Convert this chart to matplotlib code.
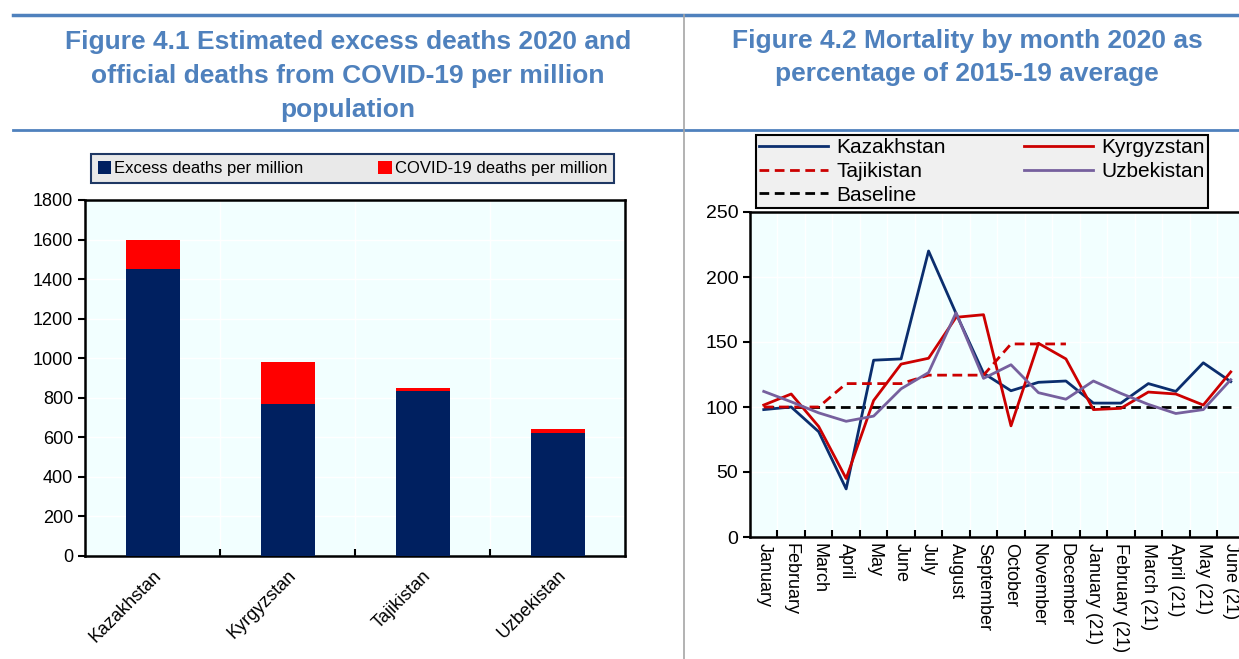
import matplotlib
matplotlib.use("Agg")
import matplotlib.pyplot as plt
import numpy as np

plt.rcParams['font.family'] = ['Liberation Sans Narrow', 'Liberation Sans', 'DejaVu Sans']

# Figure 4.1 data
countries = ["Kazakhstan", "Kyrgyzstan", "Tajikistan", "Uzbekistan"]
excess = [1450, 770, 835, 622]
covid = [150, 210, 12, 20]

# Figure 4.2 data
months = ["January", "February", "March", "April", "May", "June", "July",
          "August", "September", "October", "November", "December",
          "January (21)", "February (21)", "March (21)", "April (21)",
          "May (21)", "June (21)"]
kaz = [98, 100, 81, 37, 136, 137, 220, 172, 126, 112.5, 119, 120,
       103, 103, 118, 112, 134, 119.5]
kgz = [101.5, 110, 85, 45, 105, 133, 137.5, 169, 171, 85.5, 149, 137,
       98, 99, 111.5, 110, 101.5, 127]
tjk = [100, 100, 100, 118, 118, 118, 124.5, 124.5, 124.5, 148.5, 148.5, 148.5,
       np.nan, np.nan, np.nan, np.nan, np.nan, np.nan]
uzb = [112, 104, 95.5, 89, 93, 114, 126.5, 172.5, 122, 132.5, 111, 106,
       120, 110.5, 102, 95, 98, 121]
baseline = [100] * len(months)

W, H = 1239, 659
fig = plt.figure(figsize=(12.39, 6.59), dpi=100)

def fx(px):
    return px / W

def fy(py):
    return 1 - py / H

title_col = "#4F81BD"
bg = "#F2FFFF"

# header lines
fig.add_artist(plt.Line2D([fx(13), 1], [fy(15), fy(15)], color=title_col, lw=2.5))
fig.add_artist(plt.Line2D([fx(13), 1], [fy(130), fy(130)], color=title_col, lw=2.0))
fig.add_artist(plt.Line2D([fx(684), fx(684)], [fy(15), 0], color="#A6A6A6", lw=1.2))

fig.text(fx(348), fy(76), "Figure 4.1 Estimated excess deaths 2020 and\nofficial deaths from COVID-19 per million\npopulation",
         ha="center", va="center", fontsize=19, fontweight="bold", color=title_col, linespacing=1.52)
fig.text(fx(967), fy(57.5), "Figure 4.2 Mortality by month 2020 as\npercentage of 2015-19 average",
         ha="center", va="center", fontsize=19, fontweight="bold", color=title_col, linespacing=1.5)

# ---- left chart: stacked bars
ax1 = fig.add_axes([fx(85), fy(556), fx(625) - fx(85), fy(200) - fy(556)])
ax1.set_facecolor(bg)
x = np.arange(len(countries))
b1 = ax1.bar(x, excess, width=0.4, color="#002060", label="Excess deaths per million", zorder=3)
b2 = ax1.bar(x, covid, width=0.4, bottom=excess, color="#FF0000", label="COVID-19 deaths per million", zorder=3)
ax1.set_xlim(-0.5, len(countries) - 0.5)
ax1.set_ylim(0, 1800)
ax1.set_yticks(range(0, 1801, 200))
ax1.set_xticks(x)
ax1.set_xticklabels(countries, rotation=45, ha="right", rotation_mode="anchor", fontsize=13)
ax1.set_xticks(np.arange(0.5, len(countries) - 0.5, 1), minor=True)
ax1.tick_params(axis="x", which="major", length=0, pad=8)
ax1.tick_params(axis="x", which="minor", direction="in", length=5, width=1.5)
ax1.tick_params(axis="y", direction="out", length=5, width=1.5, labelsize=13)
ax1.grid(axis="y", color="white", lw=1, zorder=1)
ax1.grid(axis="x", which="minor", color="white", lw=1, zorder=1)
for s in ax1.spines.values():
    s.set_linewidth(1.8)
leg1 = ax1.legend(handles=[b1, b2], loc="center", ncol=2, mode="expand",
                  bbox_to_anchor=(fx(91), fy(188), fx(614) - fx(91), fy(149) - fy(188)),
                  bbox_transform=fig.transFigure, fontsize=12, handlelength=0.8, handleheight=0.8,
                  handletextpad=0.2, borderaxespad=0, fancybox=False, framealpha=1)
leg1.get_frame().set_facecolor("#E9E9E9")
leg1.get_frame().set_edgecolor("#1F3864")
leg1.get_frame().set_linewidth(1.5)

# ---- right chart: monthly lines
ax2 = fig.add_axes([fx(750), fy(537), fx(1244.5) - fx(750), fy(212) - fy(537)])
ax2.set_facecolor(bg)
m = np.arange(len(months))
l_kaz, = ax2.plot(m, kaz, color="#0B2E6E", lw=2, label="Kazakhstan", zorder=4)
l_kgz, = ax2.plot(m, kgz, color="#CC0000", lw=2, label="Kyrgyzstan", zorder=4)
l_tjk, = ax2.plot(m, tjk, color="#CC0000", lw=2, ls=(0, (3.5, 2)), label="Tajikistan", zorder=4)
l_uzb, = ax2.plot(m, uzb, color="#76609E", lw=2, label="Uzbekistan", zorder=4)
l_base, = ax2.plot(m, baseline, color="black", lw=2, ls=(0, (3.5, 2)), label="Baseline", zorder=3)
ax2.set_xlim(-0.5, len(months) - 0.5)
ax2.set_ylim(0, 250)
ax2.set_yticks(range(0, 251, 50))
ax2.set_xticks(m)
ax2.set_xticklabels(months, rotation=-90, ha="center", va="top", fontsize=13)
ax2.set_xticks(np.arange(0.5, len(months) - 0.5, 1), minor=True)
ax2.tick_params(axis="x", which="major", length=0, pad=4)
ax2.tick_params(axis="x", which="minor", direction="in", length=5, width=1.5)
ax2.tick_params(axis="y", direction="out", length=5, width=1.5, labelsize=14)
ax2.grid(axis="y", color="white", lw=1, zorder=1)
ax2.grid(axis="x", which="minor", color="white", lw=1, zorder=1)
for s in ax2.spines.values():
    s.set_linewidth(1.8)
leg2 = ax2.legend(handles=[l_kaz, l_tjk, l_base, l_kgz, l_uzb], loc="center", ncol=2, mode="expand",
                  bbox_to_anchor=(fx(756), fy(209), fx(1208) - fx(756), fy(134) - fy(209)),
                  bbox_transform=fig.transFigure, fontsize=15, handlelength=3.3,
                  labelspacing=0.22, borderpad=0.15, borderaxespad=0, handletextpad=0.4,
                  fancybox=False, framealpha=1)
leg2.get_frame().set_facecolor("#F0F0F0")
leg2.get_frame().set_edgecolor("black")
leg2.get_frame().set_linewidth(1.5)

fig.savefig("out.png", dpi=100)
